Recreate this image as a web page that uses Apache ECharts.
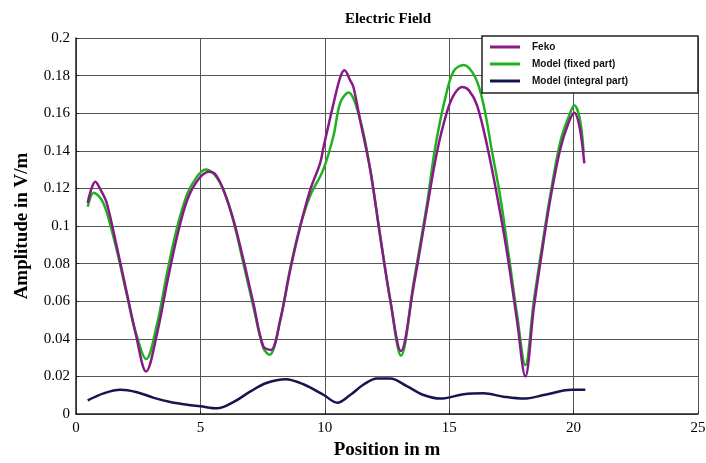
<!DOCTYPE html>
<html>
<head>
<meta charset="utf-8">
<title>Electric Field</title>
<script src="https://cdn.jsdelivr.net/npm/echarts@6/dist/echarts.min.js"></script>
<style>
  html, body { margin: 0; padding: 0; background: #fff; }
  #chart { width: 706px; height: 463px; }
</style>
</head>
<body>
<div id="chart"></div>
<script>
// Feko simulation: position (m) and field amplitude (V/m)
const fekoPos = [0.47, 0.78, 1.0, 1.23, 1.64, 2.05, 2.39, 2.82, 3.26, 3.66, 4.06, 4.47, 4.9, 5.34, 5.6, 5.93, 6.33, 6.73, 7.13, 7.53, 7.83, 8.21, 8.61, 9.01, 9.41, 9.81, 9.95, 10.35, 10.62, 10.79, 11.02, 11.15, 11.42, 11.83, 12.23, 12.63, 13.06, 13.57, 14.11, 14.51, 14.91, 15.2, 15.52, 15.8, 16.12, 16.52, 16.92, 17.32, 17.73, 18.06, 18.4, 18.73, 19.07, 19.47, 19.8, 20.03, 20.25, 20.43];
const fekoAmp = [0.1123, 0.1235, 0.119, 0.1125, 0.089, 0.064, 0.0432, 0.0226, 0.043, 0.0697, 0.0943, 0.1138, 0.1245, 0.1288, 0.1275, 0.1191, 0.1032, 0.082, 0.0589, 0.0359, 0.0341, 0.050, 0.0766, 0.0996, 0.1191, 0.1333, 0.142, 0.1651, 0.179, 0.1828, 0.1775, 0.1739, 0.1563, 0.1297, 0.0943, 0.0607, 0.0335, 0.068, 0.1096, 0.1394, 0.1607, 0.170, 0.1739, 0.172, 0.1642, 0.143, 0.1164, 0.0863, 0.0492, 0.020, 0.0563, 0.0863, 0.1147, 0.1412, 0.155, 0.1603, 0.152, 0.1333];

// Model, fixed part
const fixedPos = [0.47, 0.71, 1.0, 1.23, 1.64, 2.05, 2.39, 2.82, 3.26, 3.66, 4.06, 4.47, 4.85, 5.2, 5.55, 5.93, 6.33, 6.73, 7.13, 7.53, 7.78, 8.21, 8.61, 9.01, 9.41, 9.94, 10.35, 10.62, 10.95, 11.42, 11.83, 12.23, 12.63, 13.06, 13.57, 14.11, 14.44, 14.84, 15.18, 15.58, 16.05, 16.38, 16.72, 17.06, 17.39, 17.73, 18.06, 18.4, 18.73, 19.07, 19.47, 19.8, 20.03, 20.25, 20.4];
const fixedAmp = [0.1102, 0.1177, 0.1145, 0.1075, 0.087, 0.063, 0.044, 0.0292, 0.048, 0.075, 0.099, 0.117, 0.126, 0.1301, 0.1275, 0.119, 0.1025, 0.080, 0.057, 0.035, 0.0315, 0.050, 0.0775, 0.100, 0.116, 0.130, 0.148, 0.1655, 0.171, 0.1566, 0.1297, 0.0943, 0.0607, 0.031, 0.070, 0.112, 0.142, 0.168, 0.1824, 0.1857, 0.179, 0.1645, 0.1397, 0.1149, 0.0847, 0.0527, 0.026, 0.060, 0.089, 0.117, 0.145, 0.158, 0.1642, 0.157, 0.1397];

// Model, integral part
const integralPos = [0.47, 1.11, 1.78, 2.45, 3.13, 3.79, 4.47, 5.0, 5.67, 6.34, 7.01, 7.68, 8.42, 9.16, 9.96, 10.5, 11.02, 11.56, 12.1, 12.63, 13.3, 13.97, 14.64, 15.58, 16.38, 17.19, 17.99, 18.8, 19.6, 19.95, 20.47];
const integralAmp = [0.0073, 0.011, 0.0129, 0.0116, 0.0086, 0.0064, 0.0049, 0.0041, 0.003, 0.0064, 0.012, 0.0166, 0.0185, 0.0157, 0.0101, 0.006, 0.0101, 0.0157, 0.0189, 0.0189, 0.0148, 0.0101, 0.0082, 0.0105, 0.011, 0.0092, 0.0082, 0.0101, 0.0125, 0.0129, 0.0129];

const seriesNames = ['Feko', 'Model (fixed part)', 'Model (integral part)'];
const seriesColors = ['#861a86', '#1fb21f', '#15154f'];

const zip = (xs, ys) => xs.map((x, i) => [x, ys[i]]);
const curves = [zip(fekoPos, fekoAmp), zip(fixedPos, fixedAmp), zip(integralPos, integralAmp)];

const serif = '"Liberation Serif", "DejaVu Serif", serif';
const chart = echarts.init(document.getElementById('chart'), null, { renderer: 'canvas' });

chart.setOption({
  animation: false,
  backgroundColor: '#fff',
  title: {
    text: 'Electric Field',
    left: 383,
    top: 7,
    textAlign: 'center',
    textStyle: { fontFamily: serif, fontWeight: 'bold', fontSize: 15, color: '#000' }
  },
  grid: { left: 76, right: 8, top: 38, bottom: 49, containLabel: false, outerBoundsMode: 'none' },
  xAxis: {
    type: 'value',
    min: 0, max: 25, interval: 5,
    name: 'Position in m',
    nameLocation: 'middle',
    nameGap: 23,
    nameTextStyle: { fontFamily: serif, fontWeight: 'bold', fontSize: 19, color: '#000' },
    axisLine: { show: true, onZero: false, lineStyle: { color: '#222', width: 1.5 } },
    axisTick: { show: true, inside: true, length: 3, lineStyle: { color: '#222' } },
    axisLabel: { fontFamily: serif, fontSize: 15, color: '#000', margin: 7 },
    splitLine: { show: true, lineStyle: { color: '#555', width: 1 } }
  },
  yAxis: {
    type: 'value',
    min: 0, max: 0.2, interval: 0.02,
    name: 'Amplitude in V/m',
    nameLocation: 'middle',
    nameGap: 44,
    nameTextStyle: { fontFamily: serif, fontWeight: 'bold', fontSize: 19, color: '#000' },
    axisLine: { show: true, lineStyle: { color: '#222', width: 1.5 } },
    axisTick: { show: true, inside: true, length: 3, lineStyle: { color: '#222' } },
    axisLabel: { fontFamily: serif, fontSize: 15, color: '#000', margin: 6 },
    splitLine: { show: true, lineStyle: { color: '#555', width: 1 } }
  },
  legend: {
    data: seriesNames.map((name, i) => ({ name: name, itemStyle: { color: seriesColors[i] } })),
    orient: 'vertical',
    left: 482,
    top: 37,
    padding: [5, 8, 5, 8],
    icon: 'rect',
    itemWidth: 30,
    itemHeight: 3,
    itemGap: 7,
    textStyle: {
      fontFamily: '"Liberation Sans", Arial, sans-serif',
      fontWeight: 'bold', fontSize: 10, color: '#111',
      padding: [0, 0, 0, 7]
    }
  },
  graphic: [{
    type: 'rect',
    z: 3,
    shape: { x: 482, y: 36, width: 216, height: 57 },
    style: { fill: '#fff', stroke: '#222', lineWidth: 1.5 }
  }],
  series: curves.map((data, i) => ({
    name: seriesNames[i],
    type: 'line',
    data: data,
    smooth: 0.35,
    symbol: 'none',
    lineStyle: { color: seriesColors[i], width: 2.5 },
    itemStyle: { color: seriesColors[i] },
    z: 2 + (2 - i) * 0.1
  }))
});
</script>
</body>
</html>
